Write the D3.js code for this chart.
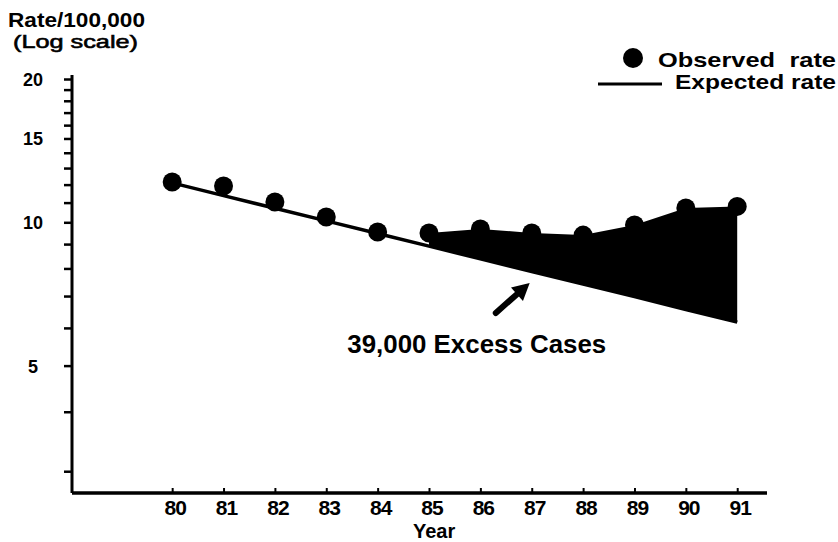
<!DOCTYPE html>
<html>
<head>
<meta charset="utf-8">
<script src="https://cdn.jsdelivr.net/npm/d3@7"></script>
<style>
  body { margin: 0; background: #fff; }
  text { font-family: "Liberation Sans", Arial, sans-serif; font-weight: bold; fill: #000; }
</style>
</head>
<body>
<div id="chart"></div>
<script>
// Data
const years = [80, 81, 82, 83, 84, 85, 86, 87, 88, 89, 90, 91];
const observed = [12.15, 11.92, 11.03, 10.26, 9.54, 9.50, 9.68, 9.50, 9.40, 9.87, 10.72, 10.80];
const expected = [12.10, 11.38, 10.70, 10.07, 9.47, 8.91, 8.38, 7.88, 7.42, 6.98, 6.56, 6.17];
const excessFrom = 85;
const yTickLabels = [20, 15, 10, 5];
const yMinorTicks = [3, 4, 5, 6, 7, 8, 9, 10, 11, 12, 13, 14, 15, 16, 17, 18, 19, 20];

const W = 838, H = 542;

const svg = d3.select("#chart")
  .append("svg")
  .attr("width", W)
  .attr("height", H);

// Scales
const x = d3.scaleLinear().domain([78.05, 91.58]).range([72, 767]);
const y = d3.scaleLog().domain([2.7, 20]).range([493, 79]);

const rows = years.map((yr, i) => ({ year: yr, obs: observed[i], exp: expected[i] }));

// Excess area (shaded between observed and expected)
const area = d3.area()
  .x(d => x(d.year))
  .y0(d => y(d.exp))
  .y1(d => y(d.obs));

svg.append("path")
  .datum(rows.filter(d => d.year >= excessFrom))
  .attr("d", area)
  .attr("fill", "#000");

// Expected line
svg.append("path")
  .datum(rows)
  .attr("d", d3.line().x(d => x(d.year)).y(d => y(d.exp)))
  .attr("fill", "none")
  .attr("stroke", "#000")
  .attr("stroke-width", 3.5);

// Observed points
svg.selectAll(".dot")
  .data(rows)
  .enter()
  .append("circle")
  .attr("class", "dot")
  .attr("cx", d => x(d.year))
  .attr("cy", d => y(d.obs))
  .attr("r", 9.5)
  .attr("fill", "#000");

// Y axis
const yAxis = svg.append("g")
  .attr("transform", `translate(${x(78.05)},0)`)
  .call(d3.axisLeft(y).tickValues(yMinorTicks).tickSize(8).tickFormat(""));
yAxis.select(".domain").attr("d", `M0,75V${y(2.7)}`).attr("stroke-width", 3);
yAxis.selectAll(".tick line").attr("stroke-width", 2.5);

svg.selectAll(".ylab")
  .data(yTickLabels)
  .enter()
  .append("text")
  .attr("class", "ylab")
  .attr("x", 33)
  .attr("y", d => y(d) + 7)
  .attr("text-anchor", "middle")
  .style("font-size", "18px")
  .text(d => d);

// X axis
const xAxis = svg.append("g")
  .attr("transform", `translate(0,${y(2.7)})`)
  .call(d3.axisTop(x).tickValues(years).tickSize(5).tickFormat(""));
xAxis.select(".domain").attr("d", `M${x(78.05)},0H${x(91.58)}`).attr("stroke-width", 3.5);
xAxis.selectAll(".tick line").attr("stroke-width", 2);

svg.selectAll(".xlab")
  .data(years)
  .enter()
  .append("text")
  .attr("class", "xlab")
  .attr("x", d => x(d) + 3)
  .attr("y", 515)
  .attr("text-anchor", "middle")
  .style("font-size", "21px")
  .style("letter-spacing", "-1px")
  .text(d => d);

svg.append("text")
  .attr("x", x(85.1))
  .attr("y", 538)
  .attr("text-anchor", "middle")
  .style("font-size", "20px")
  .text("Year");

// Y axis title
svg.append("text")
  .attr("x", 8)
  .attr("y", 27)
  .attr("textLength", 137)
  .attr("lengthAdjust", "spacingAndGlyphs")
  .style("font-size", "21px")
  .text("Rate/100,000");

svg.append("text")
  .attr("x", 13)
  .attr("y", 48)
  .attr("textLength", 125)
  .attr("lengthAdjust", "spacingAndGlyphs")
  .style("font-size", "19px")
  .style("font-weight", "normal")
  .style("stroke", "#000")
  .style("stroke-width", 0.6)
  .text("(Log scale)");

// Legend
svg.append("circle").attr("cx", 633).attr("cy", 58).attr("r", 10).attr("fill", "#000");
svg.append("text")
  .attr("x", 658).attr("y", 67)
  .attr("textLength", 178)
  .attr("lengthAdjust", "spacingAndGlyphs")
  .style("font-size", "21px")
  .style("word-spacing", "6px")
  .text("Observed rate");

svg.append("line")
  .attr("x1", 598).attr("x2", 662).attr("y1", 84).attr("y2", 84)
  .attr("stroke", "#000").attr("stroke-width", 3);
svg.append("text")
  .attr("x", 675).attr("y", 89)
  .attr("textLength", 161)
  .attr("lengthAdjust", "spacingAndGlyphs")
  .style("font-size", "21px")
  .text("Expected rate");

// Annotation: arrow and label
const arrowFrom = [86.3, 6.45], arrowTo = [86.96, 7.46];
const ax0 = x(arrowFrom[0]), ay0 = y(arrowFrom[1]);
const ax1 = x(arrowTo[0]), ay1 = y(arrowTo[1]);
const ang = Math.atan2(ay1 - ay0, ax1 - ax0);
const headLen = 17, headW = 9;
const bx = ax1 - headLen * Math.cos(ang), by = ay1 - headLen * Math.sin(ang);

svg.append("line")
  .attr("x1", ax0).attr("y1", ay0).attr("x2", bx).attr("y2", by)
  .attr("stroke", "#000").attr("stroke-width", 6).attr("stroke-linecap", "round");
svg.append("path")
  .attr("d", `M${ax1},${ay1}L${bx + headW * Math.sin(ang)},${by - headW * Math.cos(ang)}L${bx - headW * Math.sin(ang)},${by + headW * Math.cos(ang)}Z`)
  .attr("fill", "#000");

svg.append("text")
  .attr("x", x(85.93))
  .attr("y", y(5.31))
  .attr("text-anchor", "middle")
  .attr("textLength", 259)
  .attr("lengthAdjust", "spacingAndGlyphs")
  .style("font-size", "25px")
  .text("39,000 Excess Cases");
</script>
</body>
</html>
